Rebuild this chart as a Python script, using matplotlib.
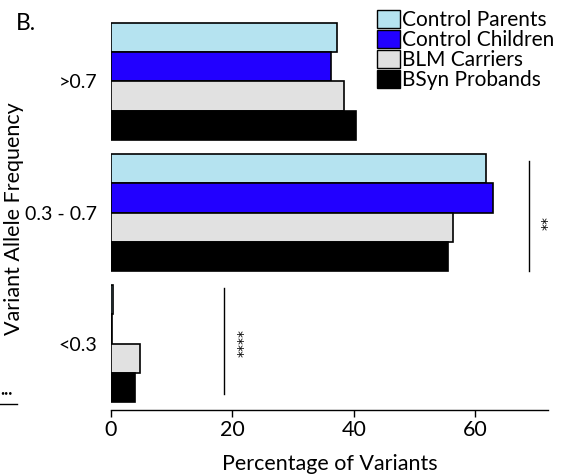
import numpy as np
import matplotlib.pyplot as plt
from matplotlib.patches import Patch
from matplotlib.lines import Line2D

plt.rcParams['font.family'] = ['Lato', 'DejaVu Sans']

# data
freq_bins = [">0.7", "0.3 - 0.7", "<0.3"]
groups = ["Control Parents", "Control Children", "BLM Carriers", "BSyn Probands"]
control_parents = [37.3, 61.8, 0.3]
control_children = [36.2, 62.9, 0.2]
blm_carriers = [38.4, 56.4, 4.8]
bsyn_probands = [40.3, 55.5, 3.9]
colors = ["#b5e3f0", "#2200ff", "#e1e1e1", "#000000"]

series = [control_parents, control_children, blm_carriers, bsyn_probands]

fig = plt.figure(figsize=(5.68, 4.76), dpi=100)
ax = fig.add_axes([111 / 568, 1 - 410 / 476, 437 / 568, 390 / 476])

pitch = 4.48
centers = np.arange(len(freq_bins)) * pitch
for i, vals in enumerate(series):
    ax.barh(centers + (i - 1.5), vals, height=1.0, color=colors[i],
            edgecolor="black", linewidth=1.2)

ax.set_xlim(0, 72)
ax.set_ylim(centers[-1] + 2.27, -2.1)
ax.set_yticks(centers)
ax.set_yticklabels(freq_bins, fontsize=14)
ax.tick_params(axis="y", length=0, pad=10)
ax.set_xticks([0, 20, 40, 60])
ax.tick_params(axis="x", labelsize=15.5, length=5, width=1, pad=2)
for s in ["top", "right", "left"]:
    ax.spines[s].set_visible(False)
ax.spines["bottom"].set_linewidth(1)
ax.set_xlabel("Percentage of Variants", fontsize=15.5, labelpad=10)

fig.text(14 / 568, 1 - 219 / 476, "Variant Allele Frequency", rotation=90,
         fontsize=15.5, ha="center", va="center")

# significance marks
ax.plot([68.8, 68.8], [2.71, 6.48], color="black", linewidth=1)
ax.text(71.9, 4.84, "**", rotation=90, fontsize=10, ha="center", va="center",
        family="DejaVu Sans")
ax.plot([18.7, 18.7], [7.06, 10.68], color="black", linewidth=1)
ax.text(21.8, 8.94, "****", rotation=90, fontsize=10, ha="center", va="center",
        family="DejaVu Sans")

handles = [Patch(facecolor=c, edgecolor="black", linewidth=1) for c in colors]
fig.legend(handles, groups, loc="upper left", bbox_to_anchor=(377 / 568, 1 - 10 / 476),
           frameon=False, fontsize=15, handlelength=1.1, handleheight=0.93,
           handletextpad=0.12, labelspacing=0.0, borderpad=0, borderaxespad=0)

fig.text(16 / 568, 1 - 23 / 476, "B.", fontsize=16.5, va="center", ha="left")

# cut-off piece of the neighbouring panel
fig.text(0, 1 - 393 / 476, "\u2022\u2022\u2022", fontsize=5, va="center", ha="left")
fig.add_artist(Line2D([0, 17 / 568], [1 - 404 / 476, 1 - 404 / 476],
                      color="black", linewidth=1))

fig.savefig("out.png", dpi=100)
